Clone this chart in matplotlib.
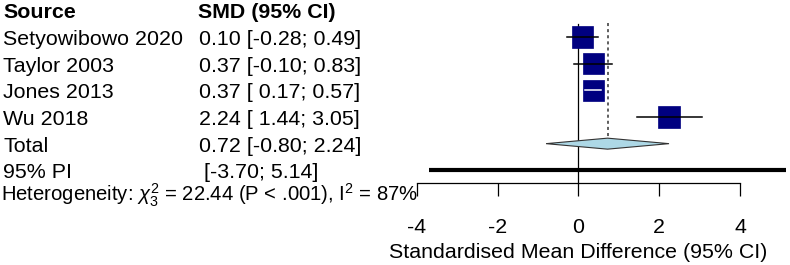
import matplotlib
matplotlib.use('Agg')
import matplotlib.pyplot as plt
from matplotlib.patches import Rectangle, Polygon

plt.rcParams['font.family'] = ['Liberation Sans', 'DejaVu Sans']
plt.rcParams['mathtext.fontset'] = 'custom'
plt.rcParams['mathtext.rm'] = 'Liberation Sans'
plt.rcParams['mathtext.it'] = 'Liberation Sans:italic'
plt.rcParams['axes.unicode_minus'] = False

# data
studies = ['Setyowibowo 2020', 'Taylor 2003', 'Jones 2013', 'Wu 2018']
smd = [0.10, 0.37, 0.37, 2.24]
ci_low = [-0.28, -0.10, 0.17, 1.44]
ci_high = [0.49, 0.83, 0.57, 3.05]
total_est = 0.72
total_ci = [-0.80, 2.24]
pred_int = [-3.70, 5.14]
xticks = [-4, -2, 0, 2, 4]
het_label = r'Heterogeneity: $\chi^2_3$ = 22.44 (P < .001), I$^2$ = 87%'

# layout helpers (figure is 790 x 265 px)
W, H = 790, 265
px_unit = 40.45            # pixels per SMD unit
x0 = -4 - 416.6 / px_unit  # data x at left edge
row0, row_h = 10.4, 26.65  # pixel y of row 0 and row spacing


def xpx(p):
    return x0 + p / px_unit


def ypx(p):
    return (p - row0) / row_h


fs = 15.4
fig = plt.figure(figsize=(W / 100, H / 100), dpi=100)
ax = fig.add_axes([0, 0, 1, 1])
ax.set_xlim(x0, x0 + W / px_unit)
ax.set_ylim(ypx(H), ypx(0))

base_off = 8 / row_h  # text baseline below row centre

# column headers
ax.text(xpx(3), ypx(18.3), 'Source', fontsize=fs, fontweight='bold', va='baseline')
ax.text(xpx(198), ypx(18.3), 'SMD (95% CI)', fontsize=fs, fontweight='bold', va='baseline')

# reference lines
ax.plot([0, 0], [ypx(24), ypx(183)], color='black', lw=0.9, zorder=1)
ax.plot([total_est, total_est], [ypx(23), 5 - 0.2], color='#333333', lw=1.1,
        ls=(0, (2, 2)), zorder=1)

sq_w = 21.5 / px_unit
sq_h = 21.5 / row_h
for i, (name, m, lo, hi) in enumerate(zip(studies, smd, ci_low, ci_high), start=1):
    ax.text(xpx(3), i + base_off, name, fontsize=fs, va='baseline')
    ax.text(xpx(199), i + base_off, f'{m:.2f} [{lo:5.2f}; {hi:.2f}]',
            fontsize=fs, va='baseline')
    ax.add_patch(Rectangle((m - sq_w / 2, i - sq_h / 2), sq_w, sq_h,
                           facecolor='#000080', edgecolor='#000080', lw=0.5, zorder=2))
    inside = (lo > m - sq_w / 2) and (hi < m + sq_w / 2)
    ax.plot([lo, hi], [i, i], color='white' if inside else 'black', lw=1.1, zorder=3)

# total (diamond)
ax.text(xpx(3), 5 + base_off, 'Total', fontsize=fs, va='baseline')
ax.text(xpx(199), 5 + base_off,
        f'{total_est:.2f} [{total_ci[0]:.2f}; {total_ci[1]:.2f}]', fontsize=fs, va='baseline')
dh = 5.5 / row_h
ax.add_patch(Polygon([(total_ci[0], 5), (total_est, 5 - dh), (total_ci[1], 5),
                      (total_est, 5 + dh)], closed=True, facecolor='#add8e6',
                     edgecolor='#333333', lw=0.8, zorder=2))

# prediction interval
ax.text(xpx(3), 6 + base_off, '95% PI', fontsize=fs, va='baseline')
ax.text(xpx(204), 6 + base_off, f'[{pred_int[0]:.2f}; {pred_int[1]:.2f}]',
        fontsize=fs, va='baseline')
ax.plot(pred_int, [6, 6], color='black', lw=3.0, solid_capstyle='butt', zorder=2)

# heterogeneity
ax.text(xpx(1), ypx(201), het_label, fontsize=14.6, va='baseline')

# x axis
for s in ['left', 'top', 'right']:
    ax.spines[s].set_visible(False)
ax.spines['bottom'].set_position(('data', ypx(183)))
ax.spines['bottom'].set_bounds(-4, 4)
ax.spines['bottom'].set_linewidth(0.9)
ax.set_yticks([])
ax.set_xticks(xticks)
ax.set_xticklabels([str(t) for t in xticks])
ax.tick_params(axis='x', length=9.4, width=0.9, pad=15.5, labelsize=fs)
ax.text(0, ypx(258.3), 'Standardised Mean Difference (95% CI)', fontsize=fs,
        ha='center', va='baseline')
ax.patch.set_visible(False)

fig.savefig('out.png', dpi=100)
